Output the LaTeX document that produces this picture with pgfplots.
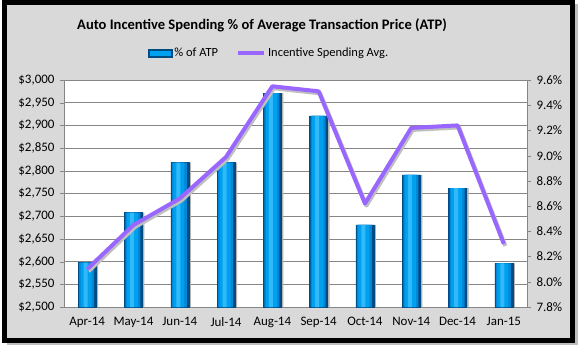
\documentclass[border=0pt]{standalone}
\usepackage{pgfplots}
\pgfplotsset{compat=1.18}
\usepackage{fontspec}
\setmainfont{Carlito}
\definecolor{bggray}{RGB}{217,217,217}
\definecolor{gridgray}{RGB}{134,134,134}
\definecolor{lineviolet}{RGB}{153,102,255}
\definecolor{bardark}{RGB}{0,75,130}
\definecolor{barmed}{RGB}{0,135,215}
\definecolor{barbright}{RGB}{0,160,240}
\definecolor{barlight}{RGB}{50,185,248}
\begin{document}
\begin{tikzpicture}[x=1bp,y=1bp]
\path[use as bounding box] (0,0) rectangle (579,350);
\fill[black!25] (7,5) rectangle (577.5,345.5);
\draw[line width=5bp, fill=bggray] (4.5,9.5) rectangle (572.5,347.5);
\node[font=\bfseries\fontsize{14.6}{17}\selectfont] at (262,325) {Auto Incentive Spending \% of Average Transaction Price (ATP)};
\begin{axis}[
  at={(64bp,43bp)}, anchor=south west, scale only axis,
  width=463bp, height=227bp,
  xmin=-0.5, xmax=9.5, ymin=2500, ymax=3000,
  axis background/.style={fill=white},
  axis y line*=left, axis x line*=bottom,
  axis line style={gridgray},
  ytick={2500,2550,...,3000},
  yticklabels={{\$2,500},{\$2,550},{\$2,600},{\$2,650},{\$2,700},{\$2,750},{\$2,800},{\$2,850},{\$2,900},{\$2,950},{\$3,000}},
  xtick={0,...,9},
  xticklabels={Apr-14,May-14,Jun-14,Jul-14,Aug-14,Sep-14,Oct-14,Nov-14,Dec-14,Jan-15},
  x tick style={draw=none},
  extra x ticks={-0.5,0.5,...,9.5},
  extra x tick labels={},
  extra x tick style={tick style={gridgray, draw}, grid=none},
  tick align=outside, major tick length=4bp,
  y tick style={gridgray},
  ymajorgrids, grid style={gridgray, line width=0.6pt},
  ticklabel style={font=\fontsize{13}{15}\selectfont},
  xticklabel style={yshift=-3bp},
  yticklabel style={xshift=-2bp},
  ybar, bar shift=0pt,
]
\pgfplotstableread{
x y
0 2598
1 2708
2 2818
3 2818
4 2971
5 2921
6 2681
7 2791
8 2762
9 2596
}\bardata
\addplot[ybar, bar shift=2bp, bar width=18bp, draw=none, fill=black!30] table[x=x,y=y] {\bardata};
\addplot[ybar, bar shift=0pt, bar width=18bp, draw=bardark, fill=bardark] table[x=x,y=y] {\bardata};
\addplot[ybar, bar shift=-0.5bp, bar width=15bp, draw=none, fill=barmed] table[x=x,y=y] {\bardata};
\addplot[ybar, bar shift=-1bp, bar width=11bp, draw=none, fill=barbright] table[x=x,y=y] {\bardata};
\addplot[ybar, bar shift=-1.5bp, bar width=4bp, draw=none, fill=barlight] table[x=x,y=y] {\bardata};
\end{axis}
\begin{axis}[
  at={(64bp,43bp)}, anchor=south west, scale only axis,
  width=463bp, height=227bp,
  xmin=-0.5, xmax=9.5, ymin=7.8, ymax=9.6,
  axis y line*=right, axis x line=none,
  axis line style={gridgray},
  ytick={7.8,8.0,...,9.6},
  yticklabels={7.8\%,8.0\%,8.2\%,8.4\%,8.6\%,8.8\%,9.0\%,9.2\%,9.4\%,9.6\%},
  tick align=outside, major tick length=4bp,
  y tick style={gridgray},
  ticklabel style={font=\fontsize{13}{15}\selectfont},
  yticklabel style={xshift=2bp},
  legend columns=2,
  legend style={at={(0.443,1.119)}, anchor=center, draw=none, fill=none,
    font=\fontsize{12.5}{15}\selectfont, /tikz/every even column/.append style={column sep=16bp}},
]
\addlegendimage{legend image code/.code={\fill[bardark] (0bp,-4bp) rectangle (24bp,4bp);\fill[barbright] (1.5bp,-2.5bp) rectangle (22bp,2bp);}}
\addlegendentry{\% of ATP}
\pgfplotstableread{
x y
0 8.10
1 8.45
2 8.66
3 8.99
4 9.55
5 9.51
6 8.62
7 9.22
8 9.24
9 8.30
}\linedata
\addplot[line width=4bp, black!25, line join=round, forget plot, transform canvas={xshift=1.5bp,yshift=-2bp}] table[x=x,y=y] {\linedata};
\addplot[line width=4bp, lineviolet, line join=round, legend image code/.code={\draw[line width=4bp, lineviolet] (0bp,0bp) -- (26bp,0bp);}] table[x=x,y=y] {\linedata};
\addlegendentry{Incentive Spending Avg.}
\end{axis}
\end{tikzpicture}
\end{document}
